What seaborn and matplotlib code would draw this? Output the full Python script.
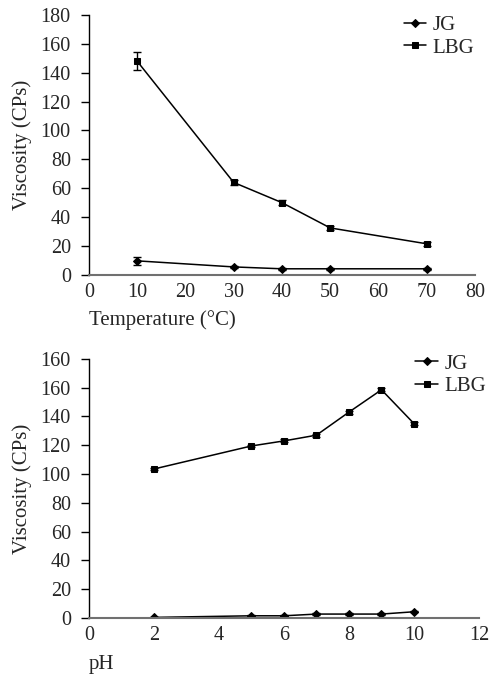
import numpy as np
import pandas as pd
import matplotlib
matplotlib.use("Agg")
import matplotlib.pyplot as plt
import seaborn as sns

# --- data ---
temp = [10, 30, 40, 50, 70]
temp_jg = [9.7, 5.5, 4.2, 4.2, 4.2]
temp_jg_err = [2.8, 0.8, 0.5, 0.5, 0.5]
temp_lbg = [148.0, 64.0, 50.0, 32.5, 21.5]
temp_lbg_err = [6.5, 2.0, 1.5, 1.5, 1.5]

ph = [2, 5, 6, 7, 8, 9, 10]
ph_jg = [0.5, 1.6, 1.6, 2.8, 2.8, 2.8, 4.4]
ph_jg_err = [0.4, 0.4, 0.4, 0.4, 0.4, 0.4, 0.4]
ph_lbg = [103.5, 119.5, 123.0, 127.0, 143.0, 158.5, 135.0]
ph_lbg_err = [1.0, 1.0, 1.0, 1.0, 1.0, 1.0, 1.0]

temp_yticks = [0, 20, 40, 60, 80, 100, 120, 140, 160, 180]
temp_xticks = [0, 10, 20, 30, 40, 50, 60, 70, 80]
ph_yticks = [0, 20, 40, 60, 80, 100, 120, 140, 160, 180]
ph_ytick_labels = ["0", "20", "40", "60", "80", "100", "120", "140", "160", "160"]
ph_xticks = [0, 2, 4, 6, 8, 10, 12]

sns.set_style("white")
plt.rcParams['font.family'] = ['Liberation Serif', 'DejaVu Serif']

fig = plt.figure(figsize=(4.99, 6.77), dpi=100)
ax1 = fig.add_axes([0.178, 0.594, 0.774, 0.384])
ax2 = fig.add_axes([0.178, 0.087, 0.782, 0.383])


def draw(ax, x, jg, jg_err, lbg, lbg_err, legend_anchor):
    df = pd.DataFrame({"x": list(x) * 2,
                       "y": list(jg) + list(lbg),
                       "series": ["JG"] * len(x) + ["LBG"] * len(x)})
    sns.lineplot(data=df, x="x", y="y", hue="series", style="series",
                 markers={"JG": "D", "LBG": "s"}, dashes=False,
                 palette={"JG": "black", "LBG": "black"},
                 markersize=4.5, linewidth=1.1, markeredgecolor="black",
                 ax=ax)
    ax.errorbar(x, jg, yerr=jg_err, fmt="none", ecolor="black",
                elinewidth=1, capsize=3)
    ax.errorbar(x, lbg, yerr=lbg_err, fmt="none", ecolor="black",
                elinewidth=1, capsize=3)
    for s in ["top", "right"]:
        ax.spines[s].set_visible(False)
    ax.spines["left"].set_color("black")
    ax.spines["left"].set_linewidth(1.0)
    ax.spines["bottom"].set_color("#707070")
    ax.spines["bottom"].set_linewidth(1.5)
    ax.tick_params(axis="y", direction="out", length=6, width=1,
                   color="black", labelsize=14.5, left=True, pad=7)
    ax.tick_params(axis="x", length=0, labelsize=14.5, pad=6)
    ax.legend(loc="upper right", frameon=False, fontsize=15,
              handlelength=1.1, handletextpad=0.3, labelspacing=0.15,
              borderaxespad=0.0, bbox_to_anchor=legend_anchor)
    ax.set_ylabel("Viscosity (CPs)", fontsize=15, labelpad=6)


draw(ax1, temp, temp_jg, temp_jg_err, temp_lbg, temp_lbg_err, (1.02, 1.03))
ax1.set_xlim(0, 80)
ax1.set_ylim(0, 180)
ax1.set_xticks(temp_xticks)
ax1.set_yticks(temp_yticks)
ax1.set_xlabel("Temperature (°C)", fontsize=15, loc="left", labelpad=6)

draw(ax2, ph, ph_jg, ph_jg_err, ph_lbg, ph_lbg_err, (1.04, 1.05))
ax2.set_xlim(0, 12)
ax2.set_ylim(0, 180)
ax2.set_xticks(ph_xticks)
ax2.set_yticks(ph_yticks)
ax2.set_yticklabels(ph_ytick_labels)
ax2.set_xlabel("pH", fontsize=15, loc="left", labelpad=7)

fig.savefig("out.png", dpi=100)
